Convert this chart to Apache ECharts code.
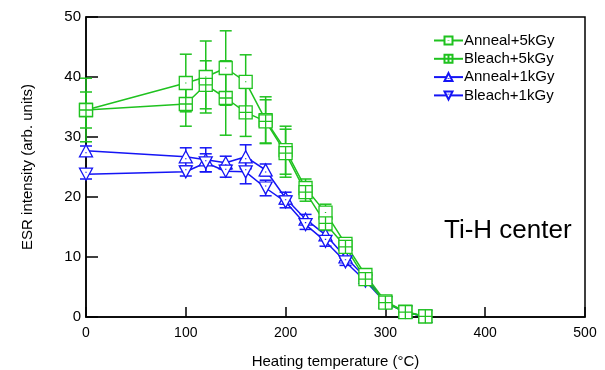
<!DOCTYPE html>
<html><head><meta charset="utf-8">
<script src="https://cdn.jsdelivr.net/npm/echarts@6/dist/echarts.min.js"></script>
<style>html,body{margin:0;padding:0;background:#fff}#c{width:605px;height:370px}</style>
</head><body><div id="c"></div>
<script>
const temps = [0,100,120,140,160,180,200,220,240,260,280,300,320,340];
const anneal5 = [34.5,39.0,40.0,41.5,39.2,32.8,27.8,21.5,17.4,12.2,7.0,2.6,0.9,0.1];
const anneal5Err = [3.0,4.8,6.0,6.2,4.5,3.9,4.0,1.5,1.4,1.0,0.8,0.5,0.4,0.3];
const bleach5 = [34.5,35.5,38.7,36.5,34.1,32.6,27.3,20.8,15.6,11.7,6.3,2.4,0.8,0.1];
const bleach5Err = [5.3,3.7,4.0,6.2,4.0,3.6,4.0,1.5,1.2,1.0,0.8,0.5,0.4,0.3];
const anneal1 = [27.7,26.7,26.2,25.7,26.7,24.5,19.8,16.3,13.7,10.0,6.6,2.5,0.8,0.1];
const anneal1Err = [0.8,1.5,2.0,1.1,2.0,1.0,1.0,0.8,0.8,0.7,0.5,0.4,0.3,0.2];
const bleach1 = [23.8,24.2,25.7,24.3,24.2,21.5,19.2,15.4,12.6,9.2,6.0,2.4,0.8,0.1];
const bleach1Err = [0.8,0.7,1.5,1.0,2.0,1.3,1.0,0.8,0.8,0.6,0.5,0.4,0.3,0.2];
const xTicks = [0,100,200,300,400,500];
const yTicks = [0,10,20,30,40,50];

const GREEN = '#1fc21f', BLUE = '#1515f5';
const symSqDot = 'path://M0,0H10V10H0Z M5,4.6V5.4';
const symSqPlus = 'path://M0,0H10V10H0Z M5,0V10 M0,5H10';
const symTriUp = 'path://M5,0L10,9L0,9Z M5,5.6V6.4';
const symTriDown = 'path://M0,0H10L5,9Z M5,2.6V3.4';

function pts(ys){ return temps.map((t,i)=>[t,ys[i]]); }
function errData(ys, es){ return temps.map((t,i)=>[t, ys[i]-es[i], ys[i]+es[i]]); }
function errSeries(name, ys, es, color){
  return {
    type:'custom', name: name+'_err', z:2, silent:true,
    data: errData(ys, es),
    renderItem: function(params, api){
      const x = api.value(0), lo = api.value(1), hi = api.value(2);
      const p1 = api.coord([x, lo]), p2 = api.coord([x, hi]);
      const w = 6;
      const st = {stroke: color, lineWidth: 1.5};
      return {type:'group', children:[
        {type:'line', shape:{x1:p1[0],y1:p1[1],x2:p2[0],y2:p2[1]}, style:st},
        {type:'line', shape:{x1:p1[0]-w,y1:p1[1],x2:p1[0]+w,y2:p1[1]}, style:st},
        {type:'line', shape:{x1:p2[0]-w,y1:p2[1],x2:p2[0]+w,y2:p2[1]}, style:st}
      ]};
    }
  };
}
function lineSeries(name, ys, color, sym, size){
  return {
    type:'line', name: name, z:3, data: pts(ys),
    symbol: sym, symbolSize: size, showAllSymbol:true,
    lineStyle:{color: color, width:1.5},
    itemStyle:{color:'#fff', borderColor: color, borderWidth:1.3},
    emphasis:{disabled:true}
  };
}

const chart = echarts.init(document.getElementById('c'), null, {renderer:'canvas'});
const FONT = 'Liberation Sans, Arial, sans-serif';
chart.setOption({
  animation:false,
  textStyle:{fontFamily: FONT},
  grid:{left:86, right:20, top:17, bottom:53, containLabel:false, outerBoundsMode:'none',
    show:true, borderColor:'#000', borderWidth:1.5},
  legend:{
    orient:'vertical', left:433, top:33, padding:0, itemWidth:29, itemHeight:10, itemGap:3.3,
    data:['Anneal+5kGy','Bleach+5kGy','Anneal+1kGy','Bleach+1kGy'],
    textStyle:{fontSize:15, color:'#000', fontFamily:FONT, padding:[0,0,0,-4]}
  },
  xAxis:{
    type:'value', min:0, max:500, interval:100,
    name:'Heating temperature (°C)', nameLocation:'middle', nameGap:37,
    nameTextStyle:{fontSize:15, color:'#000', fontFamily:FONT},
    axisLine:{show:true, lineStyle:{color:'#000', width:1.5}},
    axisTick:{show:true, inside:true, length:10, lineStyle:{color:'#000', width:1.5}},
    axisLabel:{fontSize:14, color:'#000', margin:9, fontFamily:FONT,
      formatter: v => xTicks.includes(v) ? String(v) : ''},
    splitLine:{show:false}
  },
  yAxis:{
    type:'value', min:0, max:50, interval:10,
    name:'ESR intensity (arb. units)', nameLocation:'middle', nameGap:51,
    nameTextStyle:{fontSize:15, color:'#000', fontFamily:FONT},
    axisLine:{show:true, lineStyle:{color:'#000', width:1.5}},
    axisTick:{show:true, inside:true, length:12, lineStyle:{color:'#000', width:1.5}},
    axisLabel:{fontSize:15, color:'#000', margin:5, fontFamily:FONT,
      formatter: v => yTicks.includes(v) ? String(v) : ''},
    splitLine:{show:false}
  },
  graphic:[{type:'text', left:444, top:218, style:{text:'Ti-H center', fontSize:26, fill:'#000', fontFamily:FONT}}],
  series:[
    errSeries('Anneal+1kGy', anneal1, anneal1Err, BLUE),
    errSeries('Bleach+1kGy', bleach1, bleach1Err, BLUE),
    lineSeries('Anneal+1kGy', anneal1, BLUE, symTriUp, [13,12]),
    lineSeries('Bleach+1kGy', bleach1, BLUE, symTriDown, [13,12]),
    errSeries('Anneal+5kGy', anneal5, anneal5Err, GREEN),
    errSeries('Bleach+5kGy', bleach5, bleach5Err, GREEN),
    lineSeries('Anneal+5kGy', anneal5, GREEN, symSqDot, 13),
    lineSeries('Bleach+5kGy', bleach5, GREEN, symSqPlus, 13)
  ]
});
</script></body></html>
